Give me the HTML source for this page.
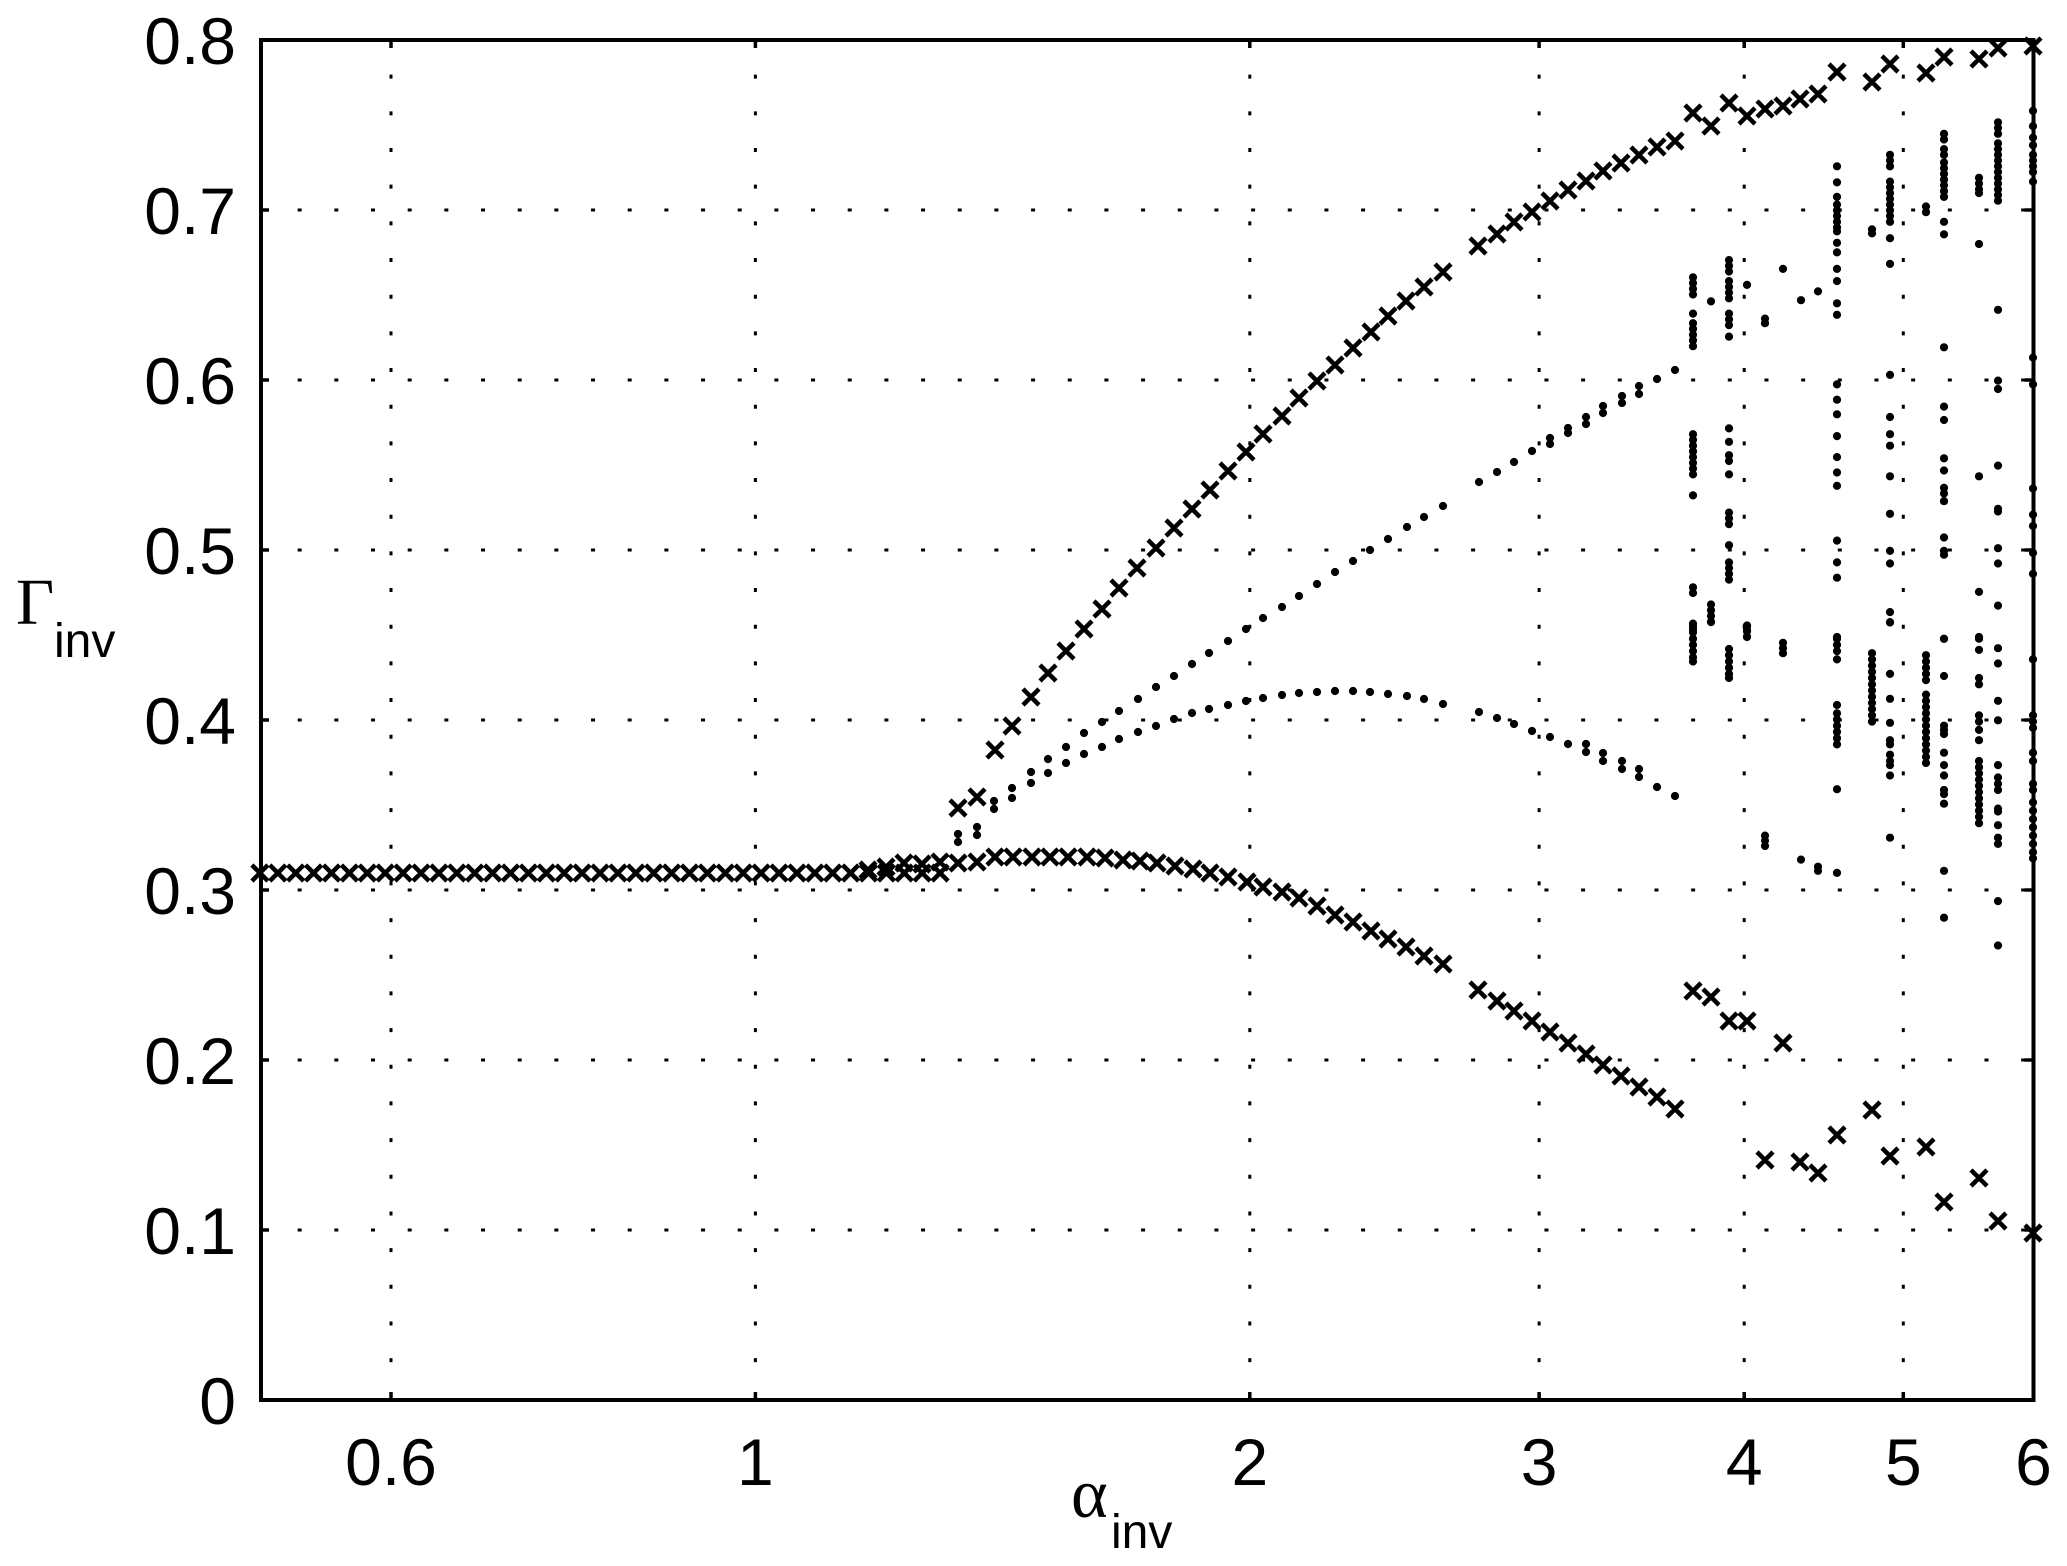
<!DOCTYPE html>
<html>
<head>
<meta charset="utf-8">
<style>
html,body{margin:0;padding:0;background:#fff;}
svg{display:block;}
text{font-family:"Liberation Sans",Arial,sans-serif;fill:#000;}
.serif{font-family:"Liberation Serif","Times New Roman",serif;}
</style>
</head>
<body>
<svg id="c" xmlns="http://www.w3.org/2000/svg" width="2067" height="1566" viewBox="0 0 2067 1566">
<rect x="0" y="0" width="2067" height="1566" fill="#fff"/>
<!-- grid -->
<g stroke="#000" stroke-width="3" fill="none" stroke-dasharray="4 32.67" stroke-dashoffset="2">
<path d="M391 40V1400M755.4 40V1400M1249.8 40V1400M1539.1 40V1400M1744.2 40V1400M1903.3 40V1400"/>
</g>
<g stroke="#000" stroke-width="3" fill="none" stroke-dasharray="4 32.67" stroke-dashoffset="0">
<path d="M261 210H2033.5M261 380H2033.5M261 550H2033.5M261 720H2033.5M261 890H2033.5M261 1060H2033.5M261 1230H2033.5"/>
</g>
<g id="data"></g>
<!-- axes box -->
<rect x="261" y="40" width="1772.5" height="1360" fill="none" stroke="#000" stroke-width="4"/>
<!-- ticks -->
<g stroke="#000" stroke-width="3.5" fill="none">
<path d="M261 210h8M261 380h8M261 550h8M261 720h8M261 890h8M261 1060h8M261 1230h8"/>
<path d="M2033.5 210h-9M2033.5 380h-9M2033.5 550h-9M2033.5 720h-9M2033.5 890h-9M2033.5 1060h-9M2033.5 1230h-9"/>
<path d="M391 1400v-8M755.4 1400v-8M1249.8 1400v-8M1539.1 1400v-8M1744.2 1400v-8M1903.3 1400v-8"/>
<path d="M391 40v8M755.4 40v8M1249.8 40v8M1539.1 40v8M1744.2 40v8M1903.3 40v8"/>
</g>
<!-- y tick labels -->
<g font-size="66" text-anchor="end">
<text x="236" y="64">0.8</text>
<text x="236" y="234">0.7</text>
<text x="236" y="404">0.6</text>
<text x="236" y="574">0.5</text>
<text x="236" y="744">0.4</text>
<text x="236" y="914">0.3</text>
<text x="236" y="1084">0.2</text>
<text x="236" y="1254">0.1</text>
<text x="236" y="1424">0</text>
</g>
<!-- x tick labels -->
<g font-size="66" text-anchor="middle">
<text x="391" y="1485">0.6</text>
<text x="755.4" y="1485">1</text>
<text x="1249.8" y="1485">2</text>
<text x="1539.1" y="1485">3</text>
<text x="1744.2" y="1485">4</text>
<text x="1903.3" y="1485">5</text>
<text x="2033.5" y="1485">6</text>
</g>
<!-- axis labels -->
<text class="serif" x="16" y="624" font-size="66">Γ</text>
<text x="54" y="657" font-size="48">inv</text>
<text class="serif" x="1071" y="1517" font-size="70">α</text>
<text x="1111" y="1548" font-size="48">inv</text>
</svg>
<script>
(function(){
var NS="http://www.w3.org/2000/svg";
var L=[],D=[];
var j;
for(j=1;j<=39;j++) L.push([958-17.9*j,873]);
[[868,870],[886,867],[904,863],[922,864],[940,862]].forEach(function(p){L.push(p);});
// lower x branch
[[958,863],[977,862],[995,857],[1013,857],[1032,857],[1050,857],[1068,857],[1087,857],[1105,858],[1123,860],[1140,861],[1157,863],[1175,866],[1193,869],[1210,873],[1228,877],[1247,882],[1263,887],[1282,892],[1299,898],[1317,906],[1335,915],[1353,922],[1371,931],[1388,939],[1406,947],[1424,956],[1443,964],[1478,990],[1497,1001],[1514,1011],[1532,1021],[1550,1032],[1568,1043],[1586,1054],[1603,1065],[1621,1076],[1639,1087],[1657,1097],[1675,1109],
[1693,991],[1711,997],[1729,1021],[1747,1021],[1783,1043],[1765,1160],[1800,1162],[1818,1173],[1837,1135],[1872,1110],[1890,1156],[1926,1147],[1944,1202],[1979,1178],[1998,1221],[2033,1233]
].forEach(function(p){L.push(p);});
// upper x branch
[[958,808],[977,797],[995,750],[1012,726],[1031,697],[1048,673],[1066,651],[1084,629],[1102,609],[1119,588],[1137,568],[1156,548],[1174,528],[1192,509],[1210,490],[1228,471],[1246,452],[1263,434],[1282,416],[1299,398],[1317,381],[1335,365],[1353,348],[1371,332],[1388,316],[1406,301],[1424,287],[1443,272],[1478,246],[1497,234],[1514,222],[1532,212],[1550,201],[1568,190],[1586,181],[1603,171],[1621,163],[1639,155],[1657,147],[1675,141],
[1693,113],[1711,126],[1729,103],[1747,116],[1765,109],[1783,106],[1800,99],[1818,94],[1837,72],[1872,82],[1890,64],[1926,73],[1944,57],[1979,59],[1998,48],[2033,46]
].forEach(function(p){L.push(p);});
// dots: upper branch
[[958,834],[958,842],[977,827],[977,835],[994,801],[994,809],[1012,788],[1012,798],
[1031,772],[1048,759],[1066,747],[1084,733],[1102,722],[1119,711],[1138,699],[1156,687],[1174,676],[1192,664],[1209,653],[1228,641],[1246,629],[1263,618],[1282,607],[1299,596],[1317,584],[1335,572],[1353,561],[1370,550],[1388,539],[1407,527],[1424,517],[1443,506],[1479,482],[1497,472],[1514,462],[1532,451],[1550,438],[1550,444],[1568,428],[1568,433],[1586,417],[1586,424],[1603,406],[1603,413],[1622,396],[1622,403],[1639,386],[1639,394],[1657,379],[1675,370]
].forEach(function(p){D.push(p);});
// dots: lower branch
[[1031,783],[1048,773],[1066,763],[1084,754],[1102,747],[1119,739],[1138,732],[1156,726],[1174,719],[1192,713],[1209,709],[1228,705],[1246,701],[1263,698],[1282,695],[1299,693],[1317,692],[1335,691],[1353,691],[1370,692],[1388,694],[1407,696],[1424,699],[1443,704],[1479,712],[1497,718],[1514,724],[1532,731],[1550,737],[1568,744],[1586,744],[1586,752],[1603,753],[1603,761],[1622,761],[1622,769],[1639,769],[1639,777],[1657,787],[1675,796]
].forEach(function(p){D.push(p);});
var A={
1693:[620,635,650,665,715,740,755,770,785,800,1030,1045,1060,1075,1090,1105,1120,1135,1190,1430,1445,1525,1540],
1711:[683,1475,1490,1505,1520],
1729:[575,590,605,630,645,660,675,715,730,745,775,1015,1050,1085,1100,1135,1235,1250,1265,1320,1365,1380,1395,1410],
1747:[640,1530,1545,1560],
1765:[728,740],
1783:[598],
1801:[680],
1818:[657],
1837:[330,372,410,430,445,460,475,490,500,530,555,598,630,688,718,900,940,978,1035,1090,1130,1165,1308,1365,1405,1560],
1872:[495,505],
1890:[300,315,330,370,385,400,415,430,445,460,475,518,585,875,985,1030,1060,1140,1238,1335,1368,1495,1522],
1926:[435,450],
1944:[245,260,285,300,320,335,350,365,380,395,410,475,508,803,958,993,1093,1125,1170,1185,1205,1300,1335,1345,1565],
1979:[360,375,390,400,533,1140,1442,1560],
1998:[215,230,245,270,285,300,315,330,345,360,375,390,405,420,705,890,912,1112,1225,1232,1328,1368,1478],
2033:[185,225,255,275,300,315,330,345,370,830,900,1172,1240,1270,1340,1395]
};
var B={
1693:[15,30,45,60,75,90,100],
1711:[5],
1729:[70,85,100,115,130,140],
1747:[15,25,40],
1765:[520,532,545],
1783:[55,68,80],
1801:[578],
1818:[595,605],
1837:[45,60,75,95,205,225,240,255,270,285,300,408,610],
1872:[80,95,110,125,140,155,170,185,200,215,230,245],
1890:[5,130,190,248,290,300,325,340,350,375,525],
1926:[85,100,115,130,145,180,195,210,225,240,255,270,285,300,315,330,345],
1944:[45,135,255,265,275,320,350,375,410,420,443,605,718],
1979:[45,72,140,155,230,245,265,290,340,355,370,385,400,415,430,445,460,475,490],
1998:[68,105,195,242,350,380,395,410,455,462,495,525,540,678,785],
2033:[95,230,245,260,320,340,395,410,440,460,480,500,520,540,560,575]
};
var k;
for(k in A){A[k].forEach(function(z){D.push([+k,40+z/2.613]);});}
for(k in B){B[k].forEach(function(z){D.push([+k,620+z/2.412]);});}
var s=8,dx="",dd="";
L.forEach(function(p){var x=p[0],y=p[1];
dx+="M"+(x-s).toFixed(1)+" "+(y-s).toFixed(1)+"L"+(x+s).toFixed(1)+" "+(y+s).toFixed(1)+"M"+(x-s).toFixed(1)+" "+(y+s).toFixed(1)+"L"+(x+s).toFixed(1)+" "+(y-s).toFixed(1);});
D.forEach(function(p){dd+="M"+p[0].toFixed(1)+" "+p[1].toFixed(1)+"h0.01";});
var g=document.getElementById("data");
var p1=document.createElementNS(NS,"path");
p1.setAttribute("d",dx);p1.setAttribute("stroke","#000");p1.setAttribute("stroke-width","4.5");p1.setAttribute("fill","none");
var p2=document.createElementNS(NS,"path");
p2.setAttribute("d",dd);p2.setAttribute("stroke","#000");p2.setAttribute("stroke-width","8.2");p2.setAttribute("stroke-linecap","round");p2.setAttribute("fill","none");
g.appendChild(p1);g.appendChild(p2);
})();
</script>
</body>
</html>
